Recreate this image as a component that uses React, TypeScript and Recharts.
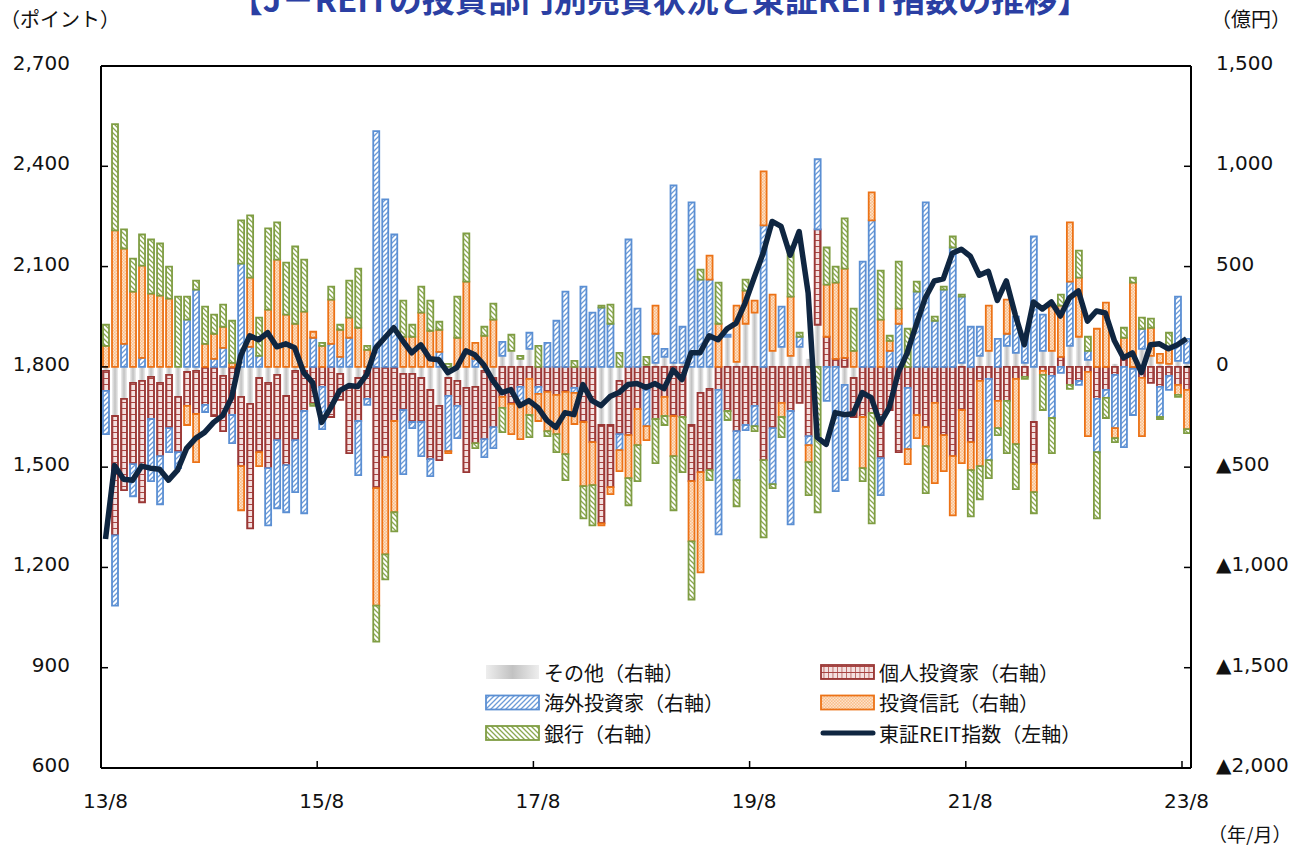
import React from 'react';
import { ComposedChart, Bar, Line, XAxis, YAxis, ReferenceLine } from 'recharts';

const W = 1312;
const H = 845;

const START_YEAR = 2013;
const START_MONTH = 8;
const N_MONTHS = 121;
const months: string[] = Array.from({ length: N_MONTHS }, (_, i) => {
  const m = START_MONTH - 1 + i;
  const y = START_YEAR + Math.floor(m / 12);
  return `${String(y % 100).padStart(2, '0')}/${(m % 12) + 1}`;
});

// 億円 (right axis)
const other = [
  -20, -245, -160, -80, -70, -50, -80, -40, -150, -25,
  -20, -5, -5, -45, -5, -150, -185, -55, -80, -40,
  -145, -20, -20, 0, 0, 0, -35, -105, -55, -20,
  -5, -5, -5, -35, -35, -55, -115, -195, -55, -70,
  -105, -100, -20, -55, 55, 80, 40, 90, 0, 0,
  0, 0, 0, 0, 0, -290, -290, -70, 0, 0,
  10, 20, 50, 20, 20, -290, -130, -110, 0, 150,
  25, 215, 270, 0, 80, 100, 55, 100, 40, 210,
  0, 0, -90, -55, 0, 0, 0, 0, 0, 0,
  0, 0, 0, 0, 0, 20, 0, 55, 80, 0,
  105, 70, 20, -275, 80, 80, 0, 105, 150, 35,
  0, 0, 15, 0, 0, 90, 55, 20, 15, 30,
  20,
];
const individual = [
  -100, -595, -455, -405, -605, -210, -365, -265, -275, -170,
  -215, -185, -240, -275, -235, -345, -620, -370, -425, -325,
  -345, -345, -200, -185, -100, -250, -130, -325, -215, -140,
  -600, -445, -265, -180, -240, -220, -345, -270, -90, -125,
  -420, -280, -340, -245, -150, -185, -100, -60, -100, -125,
  -140, -125, -105, -275, -375, -490, -310, -265, -340, -210,
  -115, -260, -150, -245, -250, -280, -395, -405, -115, -220,
  -320, -290, -195, -465, -305, -180, -220, -180, -345, 475,
  150, 40, 45, -195, -250, -230, -455, -215, -425, -105,
  -240, -300, -180, -340, -445, -215, -375, -70, -60, -170,
  -170, -60, -50, -210, -20, -45, 50, -90, -70, -25,
  -160, -115, -40, 55, -10, -55, -80, -100, -45, -90,
  -115,
];
const foreign = [
  -215, -350, 115, -160, 45, -310, -240, -120, -80, 235,
  385, -35, 40, 95, -140, 515, 100, 55, -285, -340,
  -235, -260, -510, 145, -210, 115, 50, 145, -270, -30,
  1175, 835, 660, -320, -30, -170, -85, 75, -275, -160,
  0, 40, -90, -105, 70, 0, -80, 80, -35, 120,
  230, 375, -25, 400, 270, 295, 215, -80, 635, 290,
  -180, 145, 40, 885, 180, 820, 435, 435, -720, 10,
  -245, -25, -100, 705, -280, 200, -565, 50, -45, 350,
  -170, -620, -475, 0, 525, 730, -185, 80, 215, -305,
  375, 820, 230, 385, 595, 330, 200, 145, -405, 140,
  60, 180, 135, 650, 180, -210, -30, 320, -20, 45,
  -265, -40, -265, -400, -230, 100, 0, -150, -70, 320,
  120,
];
const trust = [
  105, 680, 475, 375, 460, 365, 355, 340, 0, -95,
  -240, 115, 125, 105, 20, -220, 345, -70, 285, 535,
  260, 215, 275, 30, 105, 220, 135, 100, 195, 85,
  -585, -485, -455, 150, 150, 270, 180, 110, -10, 145,
  425, 80, 155, 235, -55, -150, -180, -180, -135, -195,
  -195, -310, -155, -320, -215, -10, -35, -105, -215, -180,
  -70, 140, -95, -200, 0, -300, -500, 120, 215, 0,
  280, 165, 60, 270, 280, -70, 295, 0, -85, 0,
  260, 380, 445, 80, -255, 140, 235, 50, 75, -75,
  -115, -95, -400, -180, -295, -265, -140, -425, 225, -135,
  170, -325, 0, -140, -20, 220, 255, 295, 295, -320,
  190, 320, -50, 90, 420, -290, 140, 45, 75, -50,
  -195,
];
const bank = [
  105, 530, 95, 165, 155, 270, 260, 160, 350, 115,
  45, 185, 95, 110, 210, 215, 310, 190, 405, 185,
  260, 385, 260, -10, 15, 65, 25, 185, 295, 20,
  -180, -125, -95, 180, 60, 130, 150, 40, 15, 205,
  240, -25, 45, 80, -120, 80, 15, -110, 105, -25,
  -90, -130, 30, -160, -200, 10, 95, 70, -135, -180,
  40, -220, -45, -270, -275, -290, 50, -50, 205, -45,
  -130, 55, -25, -385, -20, -100, 250, 20, -165, -725,
  185, 80, 250, 210, -65, -550, 245, 25, 235, 190,
  50, -235, 20, 15, 55, 10, -230, -165, -90, -35,
  -260, -225, -10, -105, -175, -175, 55, -20, 135, 70,
  -330, -100, -20, 50, 25, 55, 45, -10, 80, -10,
  -20,
];
// ポイント (left axis)
const reitIndex = [
  1285, 1505, 1464, 1461, 1503, 1497, 1494, 1461, 1491, 1556,
  1586, 1604, 1634, 1654, 1708, 1833, 1893, 1881, 1902, 1860,
  1869, 1857, 1783, 1753, 1634, 1678, 1729, 1744, 1741, 1777,
  1857, 1887, 1917, 1878, 1842, 1866, 1824, 1821, 1783, 1798,
  1848, 1836, 1806, 1759, 1723, 1732, 1684, 1699, 1678, 1640,
  1619, 1663, 1657, 1747, 1699, 1684, 1711, 1723, 1747, 1750,
  1738, 1750, 1735, 1791, 1762, 1842, 1842, 1893, 1881, 1914,
  1931, 1991, 2066, 2140, 2235, 2220, 2134, 2205, 2021, 1589,
  1568, 1663, 1657, 1660, 1723, 1708, 1631, 1678, 1783, 1842,
  1926, 2006, 2057, 2063, 2140, 2152, 2131, 2074, 2086, 1999,
  2057, 1955, 1866, 1994, 1973, 1994, 1952, 2006, 2027, 1937,
  1967, 1961, 1878, 1827, 1842, 1783, 1866, 1869, 1854, 1866,
  1884,
];

const leftTicks = [600, 900, 1200, 1500, 1800, 2100, 2400, 2700];
const rightTicks = [-2000, -1500, -1000, -500, 0, 500, 1000, 1500];
const xLabelEvery = 24;

const data = months.map((m, i) => ({
  month: m,
  other: other[i],
  individual: individual[i],
  foreign: foreign[i],
  trust: trust[i],
  bank: bank[i],
  reit: reitIndex[i],
}));

const NUM_FONT = '"DejaVu Sans", Verdana, sans-serif';
const JP_FONT = '"Noto Sans CJK JP", "Noto Sans", sans-serif';

const fmtLeft = (v: number) => v.toLocaleString('en-US');
const fmtRight = (v: number) => (v < 0 ? '▲' + Math.abs(v).toLocaleString('en-US') : v.toLocaleString('en-US'));

const PLOT_LEFT = 101;
const PLOT_RIGHT = 1191;
const PLOT_BOTTOM = 768;

const LeftTick = (props: any) => {
  const y = props.payload.coordinate;
  return (
    <g>
      <line x1={PLOT_LEFT} x2={PLOT_LEFT + 7} y1={y} y2={y} stroke="#000" strokeWidth={1.5} />
      <text x={70} y={y - 3} textAnchor="end" dominantBaseline="central" fontSize={20} fontFamily={NUM_FONT} fill="#111">
        {fmtLeft(props.payload.value)}
      </text>
    </g>
  );
};

const RightTick = (props: any) => {
  const y = props.payload.coordinate;
  return (
    <g>
      <line x1={PLOT_RIGHT - 7} x2={PLOT_RIGHT} y1={y} y2={y} stroke="#000" strokeWidth={1.5} />
      <text x={1216} y={y - 3} textAnchor="start" dominantBaseline="central" fontSize={20} fontFamily={NUM_FONT} fill="#111">
        {fmtRight(props.payload.value)}
      </text>
    </g>
  );
};

const BottomTick = (props: any) => {
  const { payload } = props;
  if (payload.index % xLabelEvery !== 0) return null;
  const x = payload.coordinate;
  const bx = x - 4.5;
  return (
    <g>
      <line x1={bx} x2={bx} y1={PLOT_BOTTOM} y2={PLOT_BOTTOM - 7} stroke="#000" strokeWidth={1.5} />
      <text x={x} y={PLOT_BOTTOM + 33} textAnchor="middle" dominantBaseline="central" fontSize={20} fontFamily={NUM_FONT} fill="#111">
        {payload.value}
      </text>
    </g>
  );
};

const STROKE = {
  individual: '#9a3735',
  foreign: '#5b8fd3',
  trust: '#ec7216',
  bank: '#7f9d43',
};

const legendItems = [
  { key: 'other', label: 'その他（右軸）', col: 0, row: 0 },
  { key: 'individual', label: '個人投資家（右軸）', col: 1, row: 0 },
  { key: 'foreign', label: '海外投資家（右軸）', col: 0, row: 1 },
  { key: 'trust', label: '投資信託（右軸）', col: 1, row: 1 },
  { key: 'bank', label: '銀行（右軸）', col: 0, row: 2 },
  { key: 'reit', label: '東証REIT指数（左軸）', col: 1, row: 2 },
];
const fillFor: Record<string, string> = {
  other: 'url(#gOther)',
  individual: 'url(#pIndiv)',
  foreign: 'url(#pForeign)',
  trust: 'url(#pTrust)',
  bank: 'url(#pBank)',
};
const strokeFor: Record<string, string> = {
  other: 'none',
  individual: STROKE.individual,
  foreign: STROKE.foreign,
  trust: STROKE.trust,
  bank: STROKE.bank,
};

export default function App() {
  return (
    <div style={{ position: 'absolute', left: 0, top: 0, width: W, height: H, background: '#fff', overflow: 'hidden' }}>
      <ComposedChart
        width={W}
        height={H}
        data={data}
        margin={{ top: 66, right: 0, bottom: 37, left: 0 }}
        stackOffset="sign"
      >
        <defs>
          <linearGradient id="gOther" x1="0" y1="0" x2="1" y2="0">
            <stop offset="0" stopColor="#eeeeee" />
            <stop offset="0.5" stopColor="#c2c2c2" />
            <stop offset="1" stopColor="#eeeeee" />
          </linearGradient>
          <pattern id="pIndiv" patternUnits="userSpaceOnUse" width="4.5" height="6">
            <rect width="4.5" height="6" fill="#f4e1e0" />
            <line x1="0" y1="0.5" x2="4.5" y2="0.5" stroke="#a84543" strokeWidth="1" />
            <line x1="0.4" y1="0" x2="0.4" y2="6" stroke="#a84543" strokeWidth="0.8" />
          </pattern>
          <pattern id="pForeign" patternUnits="userSpaceOnUse" width="5" height="5">
            <rect width="5" height="5" fill="#ffffff" />
            <path d="M0,5 L5,0 M-1,1 L1,-1 M4,6 L6,4" stroke="#6c9bd8" strokeWidth="1.3" />
          </pattern>
          <pattern id="pTrust" patternUnits="userSpaceOnUse" width="3" height="3">
            <rect width="3" height="3" fill="#f9bd8a" />
            <rect x="0" y="0" width="1.5" height="1.5" fill="#fde3cb" />
            <rect x="1.5" y="1.5" width="1.5" height="1.5" fill="#fde3cb" />
          </pattern>
          <pattern id="pBank" patternUnits="userSpaceOnUse" width="5" height="5">
            <rect width="5" height="5" fill="#ffffff" />
            <path d="M0,0 L5,5 M-1,4 L1,6 M4,-1 L6,1" stroke="#8aa850" strokeWidth="1.3" />
          </pattern>
        </defs>
        <XAxis
          dataKey="month"
          interval={0}
          height={40}
          tick={<BottomTick />}
          tickLine={false}
          axisLine={{ stroke: '#000', strokeWidth: 2 }}
        />
        <YAxis
          yAxisId="left"
          orientation="left"
          width={101}
          domain={[600, 2700]}
          ticks={leftTicks}
          interval={0}
          tick={<LeftTick />}
          tickLine={false}
          axisLine={{ stroke: '#000', strokeWidth: 2 }}
          allowDataOverflow
        />
        <YAxis
          yAxisId="right"
          orientation="right"
          width={121}
          domain={[-2000, 1500]}
          ticks={rightTicks}
          interval={0}
          tick={<RightTick />}
          tickLine={false}
          axisLine={{ stroke: '#000', strokeWidth: 2 }}
          allowDataOverflow
        />
        <ReferenceLine yAxisId="left" y={2700} stroke="#000" strokeWidth={2} />
        <Bar yAxisId="right" dataKey="other" stackId="s" barSize={6} fill="url(#gOther)" isAnimationActive={false} />
        <Bar yAxisId="right" dataKey="individual" stackId="s" barSize={6} fill="url(#pIndiv)" stroke={STROKE.individual} strokeWidth={1.8} isAnimationActive={false} />
        <Bar yAxisId="right" dataKey="foreign" stackId="s" barSize={6} fill="url(#pForeign)" stroke={STROKE.foreign} strokeWidth={1.8} isAnimationActive={false} />
        <Bar yAxisId="right" dataKey="trust" stackId="s" barSize={6} fill="url(#pTrust)" stroke={STROKE.trust} strokeWidth={1.8} isAnimationActive={false} />
        <Bar yAxisId="right" dataKey="bank" stackId="s" barSize={6} fill="url(#pBank)" stroke={STROKE.bank} strokeWidth={1.8} isAnimationActive={false} />
        <Line
          yAxisId="left"
          type="linear"
          dataKey="reit"
          stroke="#0f2641"
          strokeWidth={5.5}
          strokeLinejoin="round"
          dot={false}
          activeDot={false}
          isAnimationActive={false}
        />
      </ComposedChart>
      <svg width={W} height={H} style={{ position: 'absolute', left: 0, top: 0, pointerEvents: 'none' }}>
        <text x={660} y={12} textAnchor="middle" fontSize={33} fontWeight={700} fontFamily={JP_FONT} fill="#2b3fa3">
          【J－REITの投資部門別売買状況と東証REIT指数の推移】
        </text>
        <text x={0} y={18} dominantBaseline="central" fontSize={20} fontFamily={JP_FONT} fill="#111">（ポイント）</text>
        <text x={1211} y={18} dominantBaseline="central" fontSize={20} fontFamily={JP_FONT} fill="#111">（億円）</text>
        <text x={1208} y={833} dominantBaseline="central" fontSize={19} fontFamily={JP_FONT} fill="#111">（年/月）</text>
        {legendItems.map((it) => {
          const sx = it.col === 0 ? 486 : 821;
          const cy = 672 + it.row * 30.5;
          return (
            <g key={it.key}>
              {it.key === 'reit' ? (
                <line x1={sx + 2} x2={sx + 52} y1={cy} y2={cy} stroke="#0f2641" strokeWidth={5} strokeLinecap="round" />
              ) : (
                <rect
                  x={sx}
                  y={cy - 7}
                  width={53}
                  height={14}
                  fill={fillFor[it.key]}
                  stroke={strokeFor[it.key]}
                  strokeWidth={it.key === 'other' ? 0 : 1.8}
                />
              )}
              <text x={sx + 58} y={cy} dominantBaseline="central" fontSize={20} fontFamily={JP_FONT} fill="#111">
                {it.label}
              </text>
            </g>
          );
        })}
      </svg>
    </div>
  );
}
